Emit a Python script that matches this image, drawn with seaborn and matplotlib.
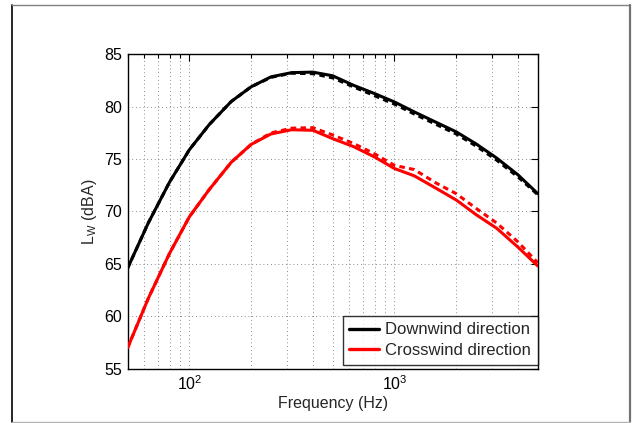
import matplotlib
matplotlib.use("Agg")
import matplotlib.pyplot as plt
import seaborn as sns
import pandas as pd
from matplotlib.lines import Line2D
from matplotlib.ticker import LogLocator, NullFormatter, FixedLocator

# ---- data ----
freq = [50, 63, 80, 100, 125, 160, 200, 250, 315, 400, 500, 630, 800,
        1000, 1250, 1600, 2000, 2500, 3150, 4000, 5000]
down_solid = [64.6, 68.9, 72.8, 75.9, 78.3, 80.5, 81.9, 82.85, 83.25, 83.3, 82.95,
              82.05, 81.25, 80.45, 79.5, 78.5, 77.6, 76.45, 75.1, 73.5, 71.7]
down_dashed = [64.6, 68.9, 72.8, 75.9, 78.3, 80.5, 81.9, 82.8, 83.2, 83.15, 82.75,
               81.9, 81.05, 80.25, 79.3, 78.3, 77.4, 76.25, 74.9, 73.3, 71.6]
cross_solid = [57.0, 61.7, 66.0, 69.5, 72.1, 74.7, 76.4, 77.4, 77.8, 77.75, 76.95,
               76.2, 75.2, 74.1, 73.4, 72.2, 71.1, 69.7, 68.4, 66.6, 64.8]
cross_dashed = [57.0, 61.7, 66.0, 69.5, 72.1, 74.7, 76.4, 77.5, 77.95, 78.0, 77.3,
                76.5, 75.5, 74.4, 74.0, 72.7, 71.7, 70.3, 68.9, 67.1, 65.1]
legend_labels = ["Downwind direction", "Crosswind direction"]
yticks = [55, 60, 65, 70, 75, 80, 85]

sns.set_style("white")
plt.rcParams["font.family"] = ["Liberation Sans", "DejaVu Sans"]
plt.rcParams["mathtext.fontset"] = "custom"
plt.rcParams["mathtext.rm"] = "Liberation Sans"
plt.rcParams["mathtext.it"] = "Liberation Sans"

fig = plt.figure(figsize=(6.32, 4.23), dpi=100)
ax = fig.add_axes([0.202, 0.1284, 0.649, 0.7432])

df = pd.DataFrame({"f": freq, "ds": down_solid, "dd": down_dashed,
                   "cs": cross_solid, "cd": cross_dashed})

lw = 2.2
sns.lineplot(data=df, x="f", y="ds", ax=ax, color="black", lw=lw, zorder=3)
sns.lineplot(data=df, x="f", y="dd", ax=ax, color="black", lw=lw, zorder=4,
             dashes=False, linestyle=(0, (1.8, 1.4)))
sns.lineplot(data=df, x="f", y="cs", ax=ax, color="#ff0000", lw=lw, zorder=3)
sns.lineplot(data=df, x="f", y="cd", ax=ax, color="#ff0000", lw=lw, zorder=4,
             dashes=False, linestyle=(0, (1.8, 1.4)))

ax.set_xscale("log")
ax.set_xlim(50, 5000)
ax.set_ylim(55, 85)
ax.set_yticks(yticks)
ax.set_yticklabels([str(v) for v in yticks])
ax.xaxis.set_major_locator(FixedLocator([100, 1000]))
ax.set_xticklabels([r"$10^{2}$", r"$10^{3}$"])
ax.xaxis.set_minor_locator(LogLocator(base=10, subs=range(2, 10)))
ax.xaxis.set_minor_formatter(NullFormatter())

gridkw = dict(color="0.4", lw=0.6, linestyle=(0, (1, 3.5)))
ax.grid(True, which="major", axis="both", **gridkw)
ax.grid(True, which="minor", axis="x", **gridkw)
ax.set_axisbelow(True)

ax.tick_params(which="both", direction="in", top=True, right=True,
               labelsize=11.5, colors="black", pad=4)
ax.tick_params(which="major", length=5, width=0.8)
ax.tick_params(which="minor", length=3, width=0.8)
for s in ax.spines.values():
    s.set_color("black")
    s.set_linewidth(1.0)

ax.set_xlabel("Frequency (Hz)", fontsize=11.5, labelpad=2)
ax.set_ylabel(r"L$_\mathrm{W}$ (dBA)", fontsize=11.5, labelpad=4)

handles = [Line2D([], [], color="black", lw=2.4),
           Line2D([], [], color="#ff0000", lw=2.4)]
leg = ax.legend(handles, legend_labels, loc="lower right",
                bbox_to_anchor=(1.0, 0.012), borderaxespad=0,
                fontsize=12, frameon=True, fancybox=False,
                edgecolor="black", handlelength=1.8, handletextpad=0.35,
                borderpad=0.4, labelspacing=0.35)
leg.get_frame().set_linewidth(1.0)
leg.set_zorder(10)

# outer figure frame
W, H = 632.0, 423.0
fig.add_artist(Line2D([12 / W, 12 / W], [1 - 5 / H, 1 - 422 / H], color="black", lw=1.2))
fig.add_artist(Line2D([12 / W, 630 / W], [1 - 5.5 / H, 1 - 5.5 / H], color="0.5", lw=1.0))
fig.add_artist(Line2D([629.5 / W, 629.5 / W], [1 - 5 / H, 1 - 422 / H], color="0.45", lw=1.6))
fig.add_artist(Line2D([12 / W, 630 / W], [1 - 422 / H, 1 - 422 / H], color="0.7", lw=1.0))

fig.savefig("out.png", dpi=100)
